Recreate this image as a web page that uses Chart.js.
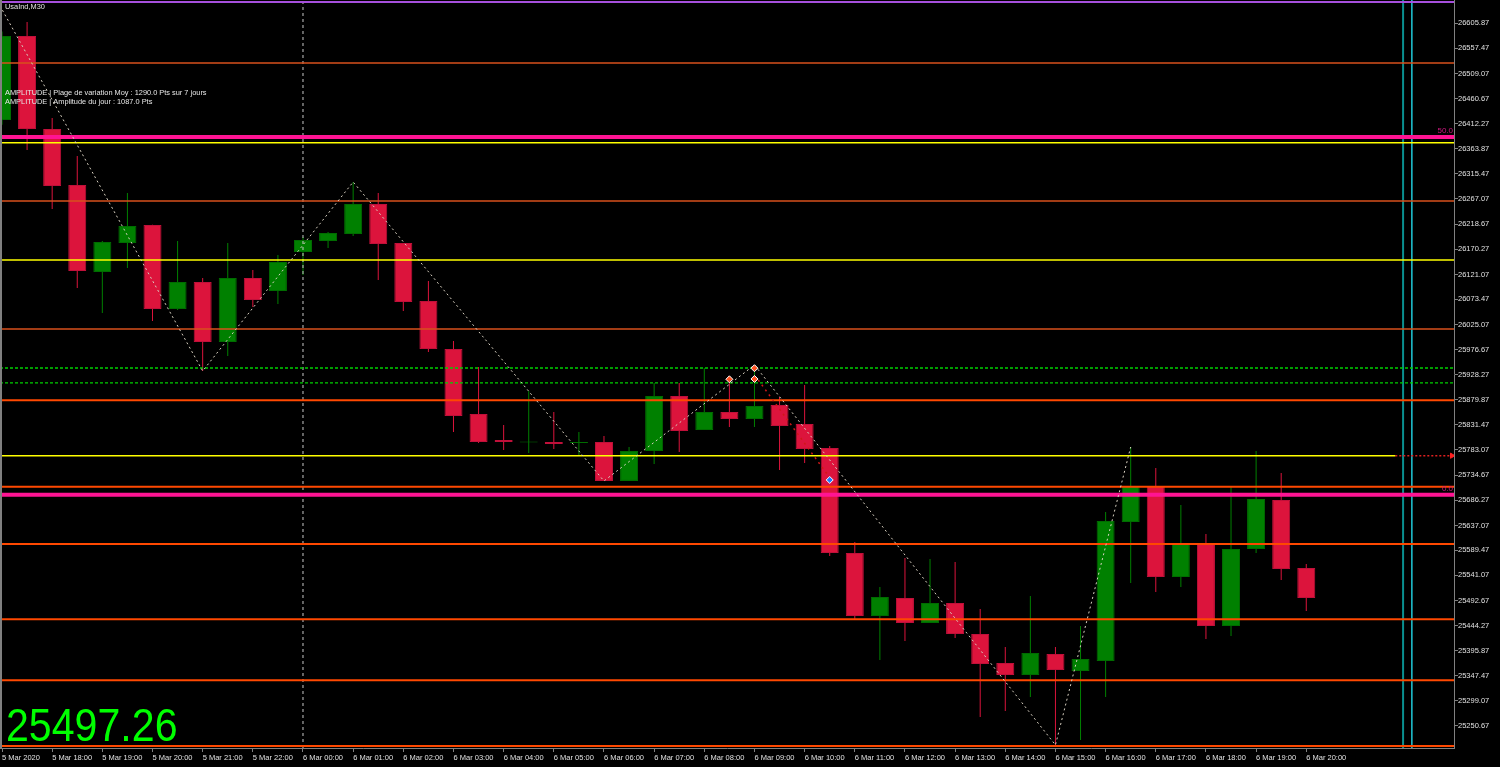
<!DOCTYPE html>
<html><head><meta charset="utf-8">
<script src="https://cdn.jsdelivr.net/npm/chart.js@4.4.1/dist/chart.umd.min.js"></script>
<style>html,body{margin:0;padding:0;background:#000;overflow:hidden}canvas{display:block}</style>
</head><body>
<canvas id="c" width="1500" height="767"></canvas>
<script>
// ---------- DATA ----------
const candleTimes = ['5 Mar 17:00','5 Mar 17:30','5 Mar 18:00','5 Mar 18:30','5 Mar 19:00','5 Mar 19:30','5 Mar 20:00','5 Mar 20:30','5 Mar 21:00','5 Mar 21:30','5 Mar 22:00','5 Mar 22:30',
 '6 Mar 00:00','6 Mar 00:30','6 Mar 01:00','6 Mar 01:30','6 Mar 02:00','6 Mar 02:30','6 Mar 03:00','6 Mar 03:30','6 Mar 04:00','6 Mar 04:30','6 Mar 05:00','6 Mar 05:30',
 '6 Mar 06:00','6 Mar 06:30','6 Mar 07:00','6 Mar 07:30','6 Mar 08:00','6 Mar 08:30','6 Mar 09:00','6 Mar 09:30','6 Mar 10:00','6 Mar 10:30','6 Mar 11:00','6 Mar 11:30',
 '6 Mar 12:00','6 Mar 12:30','6 Mar 13:00','6 Mar 13:30','6 Mar 14:00','6 Mar 14:30','6 Mar 15:00','6 Mar 15:30','6 Mar 16:00','6 Mar 16:30','6 Mar 17:00','6 Mar 17:30',
 '6 Mar 18:00','6 Mar 18:30','6 Mar 19:00','6 Mar 19:30','6 Mar 20:00'];
const opens = [26419.4,26581.4,26402.0,26294.0,26126.2,26182.2,26216.9,26054.9,26106.9,25991.2,26114.7,26089.6,26164.8,26186.0,26199.5,26257.4,26182.2,26070.3,25977.7,25852.4,25802.2,25797.4,25798.4,25796.4,25798.4,25723.2,25781.0,25887.1,25821.5,25856.2,25842.7,25869.7,25833.1,25786.8,25584.3,25462.8,25497.5,25449.3,25487.9,25428.1,25372.2,25349.0,25389.5,25356.7,25376.0,25644.1,25713.5,25538.0,25601.7,25443.5,25592.0,25686.5,25555.4];
const highs = [26590.0,26608.4,26423.2,26350.0,26186.0,26278.6,26217.5,26186.0,26114.7,26182.2,26130.1,26159.0,26193.7,26203.4,26299.8,26278.6,26182.2,26108.9,25993.2,25943.0,25831.2,25896.7,25856.2,25817.7,25809.9,25788.7,25912.2,25912.2,25941.1,25921.8,25946.9,25885.2,25908.3,25790.7,25605.5,25518.7,25574.7,25572.7,25566.9,25476.3,25403.0,25501.4,25403.0,25443.5,25663.4,25788.7,25748.2,25676.9,25620.9,25713.0,25781.0,25738.6,25563.1];
const lows = [26410.0,26361.5,26247.7,26095.4,26047.2,26134.0,26031.7,26052.9,25935.3,25964.2,26058.7,26064.5,26120.4,26172.5,26195.7,26110.8,26051.0,25971.9,25817.7,25796.4,25782.9,25777.2,25784.9,25771.4,25723.2,25723.2,25755.9,25779.1,25821.5,25827.3,25827.3,25744.4,25757.9,25578.5,25457.0,25377.9,25414.6,25449.3,25420.4,25268.0,25279.6,25306.6,25214.0,25223.7,25306.6,25526.4,25509.1,25518.7,25418.4,25424.2,25584.3,25532.2,25472.4];
const closes = [26581.4,26402.0,26292.1,26128.2,26184.1,26214.9,26054.9,26106.9,25991.2,26114.7,26072.2,26145.5,26188.0,26201.5,26257.4,26180.2,26068.4,25977.7,25848.5,25798.4,25798.4,25799.3,25794.5,25798.4,25723.2,25781.0,25887.1,25819.6,25856.2,25842.7,25867.8,25829.2,25784.9,25584.3,25462.8,25499.4,25449.3,25487.9,25428.1,25370.2,25349.0,25391.4,25358.7,25379.9,25646.0,25713.5,25538.0,25603.6,25443.5,25592.0,25688.4,25553.4,25497.26];

const xTickIndex = [0,2,4,6,8,10,12,14,16,18,20,22,24,26,28,30,32,34,36,38,40,42,44,46,48,50,52];
const xTickLabels = ['5 Mar 2020','5 Mar 18:00','5 Mar 19:00','5 Mar 20:00','5 Mar 21:00','5 Mar 22:00','6 Mar 00:00','6 Mar 01:00','6 Mar 02:00','6 Mar 03:00','6 Mar 04:00','6 Mar 05:00','6 Mar 06:00','6 Mar 07:00','6 Mar 08:00','6 Mar 09:00','6 Mar 10:00','6 Mar 11:00','6 Mar 12:00','6 Mar 13:00','6 Mar 14:00','6 Mar 15:00','6 Mar 16:00','6 Mar 17:00','6 Mar 18:00','6 Mar 19:00','6 Mar 20:00'];
const yTickValues = [26605.87,26557.47,26509.07,26460.67,26412.27,26363.87,26315.47,26267.07,26218.67,26170.27,26121.07,26073.47,26025.07,25976.67,25928.27,25879.87,25831.47,25783.07,25734.67,25686.27,25637.07,25589.47,25541.07,25492.67,25444.27,25395.87,25347.47,25299.07,25250.67];

const yMin = 25208.2, yMax = 26650.8;
const xMin = -0.08, xMax = 57.89;

const topLine = 26647.0;
const orangeDarkLevels = [26529.3, 26263.1, 26016.3];
const orangeLevels = [25878.8, 25712.1, 25601.6, 25456.4, 25338.8, 25212.1];
const yellowLevels = [26375.6, 26149.4];
const yellowShortLevel = 25771.9;
const yellowShortEnd = 55.55;
const fiboLevels = [26386.6, 25696.8];
const fiboLabels = ['50.0', '0.0'];
const greenDotLevels = [25941.1, 25912.2];
const daySeparatorX = 12;
const cyanLinesX = [55.86, 56.21];

const zigX = [-0.08, 8, 14, 24, 30, 42, 45];
const zigY = [26639.6, 25935.3, 26299.8, 25723.2, 25946.9, 25214.0, 25788.7];

const arrowMarksX = [29, 30, 30];
const arrowMarksY = [25919.3, 25940.7, 25919.9];
const blueMarkX = [33];
const blueMarkY = [25725.1];
const redDotX = [30.15, 32.95];
const redDotY = [25918.0, 25733.0];

const symbolText = 'UsaInd,M30';
const infoLines = ['AMPLITUDE | Plage de variation Moy : 1290.0 Pts sur 7 jours', 'AMPLITUDE | Amplitude du jour : 1087.0 Pts'];
const bigPrice = '25497.26';

// ---------- BUILD ----------
const UP = '#008000', DN = '#DC143C';
const UPB = '#006c00', DNB = '#c0103a';
const idx = opens.map((_, i) => i);
const up = idx.map(i => closes[i] >= opens[i]);

function hline(y, color, width, dash, x0, x1) {
  return { type: 'line', data: [{x: x0 === undefined ? xMin : x0, y}, {x: x1 === undefined ? xMax : x1, y}],
    borderColor: color, borderWidth: width, borderDash: dash || [], pointRadius: 0, fill: false, order: 2 };
}
function vline(x, color, width, dash) {
  return { type: 'line', data: [{x, y: yMin}, {x, y: yMax}], borderColor: color, borderWidth: width,
    borderDash: dash || [], pointRadius: 0, fill: false, order: 2 };
}

const datasets = [];
datasets.push({ type: 'bar', label: 'bodies', data: idx.map(i => ({x: i, y: [opens[i], closes[i]]})),
  backgroundColor: idx.map(i => up[i] ? UP : DN), borderColor: idx.map(i => up[i] ? UPB : DNB),
  borderWidth: 1, borderSkipped: false, grouped: false, maxBarThickness: 18, order: 10 });
datasets.push({ type: 'bar', label: 'wicks', data: idx.map(i => ({x: i, y: [lows[i], highs[i]]})),
  backgroundColor: idx.map(i => up[i] ? UP : DN), borderWidth: 0, grouped: false, maxBarThickness: 1, order: 11 });

datasets.push(hline(topLine, '#a64fdc', 2));
orangeDarkLevels.forEach(v => datasets.push(hline(v, '#d9501c', 1.5)));
orangeLevels.forEach(v => datasets.push(hline(v, '#ff4800', 2)));
yellowLevels.forEach(v => datasets.push(hline(v, '#ffff00', 1.5)));
datasets.push(hline(yellowShortLevel, '#ffff00', 1.5, [], xMin, yellowShortEnd));
datasets.push(hline(yellowShortLevel, '#e02020', 1.5, [2, 2], yellowShortEnd, xMax - 0.05));
fiboLevels.forEach(v => datasets.push(hline(v, '#ff1493', 4)));
greenDotLevels.forEach(v => datasets.push(hline(v, '#00d000', 1.3, [3, 2])));
datasets.push(vline(daySeparatorX, '#c8c8c8', 1, [3, 3]));
datasets.push(vline(cyanLinesX[0], '#0a9090', 2));
datasets.push(vline(cyanLinesX[1], '#20c8d8', 1.5));

datasets.push({ type: 'line', data: zigX.map((x, i) => ({x, y: zigY[i]})), borderColor: '#d8d0c0', borderWidth: 1,
  borderDash: [2, 3], pointRadius: 0, fill: false, tension: 0, order: 1 });
datasets.push({ type: 'line', data: redDotX.map((x, i) => ({x, y: redDotY[i]})), borderColor: '#d01818', borderWidth: 1.5,
  borderDash: [2, 4], pointRadius: 0, fill: false, order: 1 });
datasets.push({ type: 'line', data: arrowMarksX.map((x, i) => ({x, y: arrowMarksY[i]})), showLine: false,
  pointStyle: 'rectRot', pointRadius: 3.5, pointBackgroundColor: '#ff5020', pointBorderColor: '#ffffff', pointBorderWidth: 1, order: 0 });
datasets.push({ type: 'line', data: blueMarkX.map((x, i) => ({x, y: blueMarkY[i]})), showLine: false,
  pointStyle: 'rectRot', pointRadius: 3.5, pointBackgroundColor: '#1e78ff', pointBorderColor: '#ffffff', pointBorderWidth: 1, order: 0 });
datasets.push({ type: 'line', data: [{x: xMax - 0.08, y: yellowShortLevel}], showLine: false,
  pointStyle: 'triangle', rotation: 90, pointRadius: 3, pointBackgroundColor: '#ff2020', pointBorderColor: '#ff2020', order: 0 });

const FONT = "'Liberation Sans', Arial, sans-serif";

const overlay = {
  id: 'overlay',
  beforeDraw(chart) {
    const c = chart.ctx;
    c.save(); c.fillStyle = '#000'; c.fillRect(0, 0, chart.width, chart.height); c.restore();
  },
  afterDraw(chart) {
    const c = chart.ctx, a = chart.chartArea, ys = chart.scales.y;
    c.save();
    c.fillStyle = '#808080';
    c.fillRect(0, a.top, 2, a.bottom - a.top);
    c.font = '7.4px ' + FONT;
    c.fillStyle = '#e6e6e6';
    c.textBaseline = 'middle';
    c.textAlign = 'left';
    c.fillText(symbolText, 5, 7);
    c.fillText(infoLines[0], 5, 92.5);
    c.fillText(infoLines[1], 5, 101.5);
    c.textAlign = 'right';
    c.textBaseline = 'bottom';
    c.fillStyle = '#d01880';
    c.font = '8px ' + FONT;
    fiboLevels.forEach((v, i) => c.fillText(fiboLabels[i], a.right - 1, ys.getPixelForValue(v) - 2));
    c.fillStyle = '#00ff00';
    c.textAlign = 'left';
    c.textBaseline = 'alphabetic';
    c.translate(6, 741);
    c.scale(0.875, 1);
    c.font = '47px ' + FONT;
    c.fillText(bigPrice, 0, 0);
    c.restore();
  }
};

new Chart(document.getElementById('c'), {
  type: 'bar',
  data: { datasets },
  options: {
    responsive: false, animation: false, events: [],
    layout: { padding: 0, autoPadding: false },
    plugins: { legend: { display: false }, tooltip: { enabled: false } },
    scales: {
      x: {
        type: 'linear', min: xMin, max: xMax, offset: false, position: 'bottom',
        grid: { display: true, drawOnChartArea: false, drawTicks: true, tickLength: 4, color: '#808080', offset: false },
        border: { display: true, color: '#808080', width: 1 },
        ticks: { autoSkip: false, maxRotation: 0, minRotation: 0, align: 'start', padding: 1, color: '#e0e0e0',
          font: { family: FONT, size: 7.5 }, callback: (v, i) => xTickLabels[i] },
        afterBuildTicks: s => { s.ticks = xTickIndex.map(v => ({value: v})); },
        afterFit: s => { s.height = 19; s.paddingLeft = 0; s.paddingRight = 0; }
      },
      y: {
        type: 'linear', min: yMin, max: yMax, position: 'right',
        grid: { display: true, drawOnChartArea: false, drawTicks: true, tickLength: 4, color: '#808080' },
        border: { display: true, color: '#808080', width: 1 },
        ticks: { padding: 0, color: '#e0e0e0', font: { family: FONT, size: 7.5 }, callback: v => Number(v).toFixed(2) },
        afterBuildTicks: s => { s.ticks = yTickValues.map(v => ({value: v})); },
        afterFit: s => { s.width = 46; s.paddingTop = 0; s.paddingBottom = 0; }
      }
    }
  },
  plugins: [overlay]
});
</script>
</body></html>
